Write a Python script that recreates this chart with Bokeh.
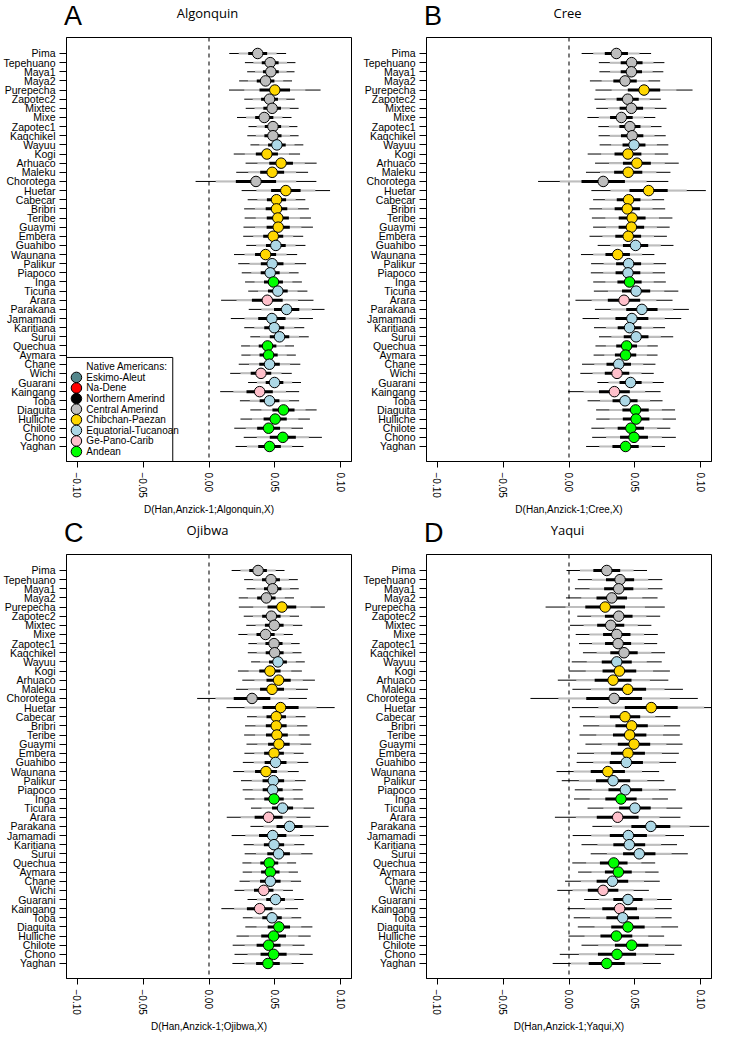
from bokeh.plotting import figure
from bokeh.models import Span, BoxAnnotation, FixedTicker, ColumnDataSource, Div
from bokeh.layouts import column, row
from bokeh.embed import file_html
from bokeh.resources import INLINE
from bokeh.core.properties import value

populations = ["Pima", "Tepehuano", "Maya1", "Maya2", "Purepecha", "Zapotec2", "Mixtec", "Mixe",
               "Zapotec1", "Kaqchikel", "Wayuu", "Kogi", "Arhuaco", "Maleku", "Chorotega", "Huetar",
               "Cabecar", "Bribri", "Teribe", "Guaymi", "Embera", "Guahibo", "Waunana", "Palikur",
               "Piapoco", "Inga", "Ticuna", "Arara", "Parakana", "Jamamadi", "Karitiana", "Surui",
               "Quechua", "Aymara", "Chane", "Wichi", "Guarani", "Kaingang", "Toba", "Diaguita",
               "Hulliche", "Chilote", "Chono", "Yaghan"]

groups = ["Central Amerind", "Central Amerind", "Central Amerind", "Central Amerind", "Chibchan-Paezan",
          "Central Amerind", "Central Amerind", "Central Amerind", "Central Amerind", "Central Amerind",
          "Equatorial-Tucanoan", "Chibchan-Paezan", "Chibchan-Paezan", "Chibchan-Paezan", "Central Amerind",
          "Chibchan-Paezan", "Chibchan-Paezan", "Chibchan-Paezan", "Chibchan-Paezan", "Chibchan-Paezan",
          "Chibchan-Paezan", "Equatorial-Tucanoan", "Chibchan-Paezan", "Equatorial-Tucanoan",
          "Equatorial-Tucanoan", "Andean", "Equatorial-Tucanoan", "Ge-Pano-Carib", "Equatorial-Tucanoan",
          "Equatorial-Tucanoan", "Equatorial-Tucanoan", "Equatorial-Tucanoan", "Andean", "Andean",
          "Equatorial-Tucanoan", "Ge-Pano-Carib", "Equatorial-Tucanoan", "Ge-Pano-Carib",
          "Equatorial-Tucanoan", "Andean", "Andean", "Andean", "Andean", "Andean"]

group_names = ["Eskimo-Aleut", "Na-Dene", "Northern Amerind", "Central Amerind", "Chibchan-Paezan",
               "Equatorial-Tucanoan", "Ge-Pano-Carib", "Andean"]
group_colors = ["#53868B", "#FF0000", "#000000", "#BEBEBE", "#FFD700", "#ADD8E6", "#FFC0CB", "#00FF00"]

x_ticks = [-0.10, -0.05, 0.0, 0.05, 0.10]
x_tick_labels = ["\u22120.10", "\u22120.05", "0.00", "0.05", "0.10"]

d_algonquin = [0.037, 0.0465, 0.047, 0.043, 0.050, 0.046, 0.048, 0.042, 0.0486, 0.0486, 0.0516, 0.044,
               0.0548, 0.048, 0.0357, 0.0584, 0.0513, 0.0513, 0.0523, 0.0526, 0.0488, 0.0508, 0.043,
               0.048, 0.0465, 0.049, 0.0523, 0.0443, 0.059, 0.0478, 0.0496, 0.0536, 0.0445, 0.0453,
               0.046, 0.0395, 0.0498, 0.0385, 0.046, 0.0566, 0.0503, 0.0453, 0.0561, 0.046]
se_algonquin = [0.0072, 0.0064, 0.006, 0.0067, 0.0116, 0.0064, 0.0067, 0.0069, 0.0062, 0.0065, 0.0067,
                0.0084, 0.009, 0.0091, 0.0153, 0.0112, 0.0073, 0.0082, 0.0084, 0.0088, 0.0076, 0.0075,
                0.008, 0.0086, 0.0072, 0.0072, 0.0075, 0.0117, 0.0096, 0.0104, 0.0076, 0.0074, 0.0067,
                0.0069, 0.0078, 0.0078, 0.0067, 0.01, 0.0075, 0.0084, 0.0088, 0.0087, 0.0099, 0.0086]

d_cree = [0.036, 0.0476, 0.0474, 0.0426, 0.057, 0.0446, 0.0474, 0.0398, 0.0463, 0.048, 0.0494, 0.0448,
          0.0516, 0.045, 0.026, 0.0605, 0.0453, 0.0443, 0.048, 0.0474, 0.045, 0.0506, 0.037, 0.0453,
          0.0448, 0.046, 0.051, 0.0418, 0.0554, 0.0478, 0.046, 0.051, 0.0438, 0.043, 0.0378, 0.0365,
          0.0468, 0.0345, 0.0426, 0.0506, 0.051, 0.047, 0.0494, 0.043]
se_cree = [0.0088, 0.0083, 0.0081, 0.0089, 0.0123, 0.0084, 0.0089, 0.0086, 0.008, 0.0085, 0.0087, 0.0102,
           0.0106, 0.0107, 0.0165, 0.0145, 0.009, 0.0096, 0.0102, 0.0097, 0.0098, 0.0096, 0.0093, 0.0095,
           0.0094, 0.0092, 0.0107, 0.0123, 0.0119, 0.0125, 0.009, 0.0094, 0.0079, 0.0081, 0.0093, 0.0093,
           0.0084, 0.0117, 0.0095, 0.01, 0.0101, 0.01, 0.0106, 0.01]

d_ojibwa = [0.0373, 0.0471, 0.0484, 0.0436, 0.0554, 0.0474, 0.0496, 0.043, 0.0494, 0.0499, 0.0524, 0.0463,
            0.0529, 0.0479, 0.0327, 0.0544, 0.0511, 0.0511, 0.0516, 0.0531, 0.0494, 0.0506, 0.0433, 0.0489,
            0.0484, 0.0494, 0.0559, 0.0453, 0.0612, 0.0484, 0.0494, 0.0529, 0.0458, 0.0466, 0.0466, 0.0416,
            0.0506, 0.0385, 0.0479, 0.0531, 0.0491, 0.0453, 0.0491, 0.0448]
se_ojibwa = [0.0067, 0.0068, 0.0066, 0.007, 0.0109, 0.007, 0.0071, 0.0069, 0.0065, 0.0068, 0.0068, 0.0081,
             0.0092, 0.0091, 0.0139, 0.0137, 0.0074, 0.0079, 0.0083, 0.0082, 0.0075, 0.0083, 0.0083, 0.0082,
             0.0076, 0.0074, 0.008, 0.0106, 0.0099, 0.0104, 0.0077, 0.0086, 0.0068, 0.007, 0.0078, 0.0074,
             0.0071, 0.0097, 0.0074, 0.0085, 0.0094, 0.0091, 0.0099, 0.009]

d_yaqui = [0.0287, 0.0388, 0.0378, 0.0325, 0.0275, 0.0378, 0.0317, 0.0363, 0.0373, 0.0418, 0.0363, 0.0383,
           0.0335, 0.0446, 0.0343, 0.0625, 0.0426, 0.0476, 0.0461, 0.0494, 0.0448, 0.0436, 0.0295, 0.0335,
           0.0428, 0.0395, 0.0501, 0.037, 0.0622, 0.0451, 0.0458, 0.0534, 0.034, 0.0375, 0.033, 0.0259,
           0.0448, 0.0385, 0.0408, 0.0448, 0.036, 0.0476, 0.0365, 0.0287]
se_yaqui = [0.0102, 0.0107, 0.0111, 0.0116, 0.0151, 0.0105, 0.0103, 0.0104, 0.0099, 0.0104, 0.0114, 0.0128,
            0.014, 0.014, 0.0212, 0.0201, 0.0115, 0.0123, 0.0127, 0.0123, 0.0129, 0.0126, 0.013, 0.013,
            0.0128, 0.0119, 0.012, 0.0159, 0.0148, 0.0141, 0.0121, 0.0123, 0.0105, 0.0102, 0.012, 0.0116,
            0.0111, 0.0132, 0.0124, 0.0127, 0.0121, 0.0127, 0.0145, 0.0137]

panel_letters = ["A", "B", "C", "D"]
panel_targets = ["Algonquin", "Cree", "Ojibwa", "Yaqui"]

FONT = "Liberation Sans"
X0, X1 = -0.1083, 0.1083
Y0, Y1 = -0.643, 45.75
FRAME_W = 287
FRAME_H = 428
BORDER_L = 64
BORDER_T = 3
BORDER_B = 52
FIG_W = 360
HEADER_H = 34
ROW_PX = FRAME_H / (Y1 - Y0)
PX_X = FRAME_W / (X1 - X0)

color_of = dict(zip(group_names, group_colors))


def header(letter, target):
    html = (
        '<div style="position:relative;width:%dpx;height:%dpx;">'
        '<span style="position:absolute;left:%dpx;top:1px;font-family:\'Liberation Sans\';'
        'font-size:27px;line-height:31px;color:black;white-space:nowrap;">%s</span>'
        '<span style="position:absolute;left:%dpx;width:%dpx;top:5px;text-align:center;'
        'font-family:\'Open Sans\';font-size:13px;line-height:16px;color:black;white-space:nowrap;">%s</span>'
        '</div>'
    ) % (FIG_W, HEADER_H, BORDER_L, letter, BORDER_L, FRAME_W, target)
    return Div(text=html, width=FIG_W, height=HEADER_H, margin=(0, 0, 0, 0))


def make_panel(target, d, se, legend=False):
    n = len(populations)
    ys = [n - i for i in range(n)]
    p = figure(width=FIG_W, height=BORDER_T + FRAME_H + BORDER_B, x_range=(X0, X1), y_range=(Y0, Y1),
               output_backend="svg", toolbar_location=None,
               min_border_left=BORDER_L, min_border_right=FIG_W - BORDER_L - FRAME_W,
               min_border_top=BORDER_T, min_border_bottom=BORDER_B)
    p.xgrid.visible = False
    p.ygrid.visible = False
    p.outline_line_color = "black"
    p.outline_line_width = 1
    p.outline_line_alpha = 1
    p.background_fill_color = "white"
    p.border_fill_color = "white"

    xa = p.xaxis[0]
    xa.ticker = FixedTicker(ticks=x_ticks)
    xa.major_label_overrides = dict(zip(x_ticks, x_tick_labels))
    xa.major_label_orientation = "vertical"
    xa.major_tick_out = 6
    xa.major_tick_in = 0
    xa.minor_tick_line_color = None
    xa.major_label_standoff = 5
    xa.major_label_text_font = FONT
    xa.major_label_text_font_size = "10px"
    xa.major_label_text_color = "black"
    xa.axis_label = "D(Han,Anzick-1;%s,X)" % target
    xa.axis_label_text_font = FONT
    xa.axis_label_text_font_size = "10px"
    xa.axis_label_text_font_style = "normal"
    xa.axis_label_text_color = "black"
    xa.axis_label_standoff = 3
    xa.axis_line_color = "black"
    xa.major_tick_line_color = "black"

    ya = p.yaxis[0]
    ya.ticker = FixedTicker(ticks=ys)
    ya.major_label_overrides = {y: name for y, name in zip(ys, populations)}
    ya.major_tick_out = 7
    ya.major_tick_in = 0
    ya.minor_tick_line_color = None
    ya.major_label_standoff = 4
    ya.major_label_text_font = FONT
    ya.major_label_text_font_size = "10.5px"
    ya.major_label_text_color = "black"
    ya.axis_line_color = "black"
    ya.major_tick_line_color = "black"

    p.add_layout(Span(location=0, dimension="height", line_color="#333333", line_width=1.3,
                      line_dash="4 4", level="underlay"))

    src = ColumnDataSource(dict(
        y=ys, d=d,
        lo3=[a - 3 * b for a, b in zip(d, se)], hi3=[a + 3 * b for a, b in zip(d, se)],
        lo2=[a - 2 * b for a, b in zip(d, se)], hi2=[a + 2 * b for a, b in zip(d, se)],
        lo1=[a - b for a, b in zip(d, se)], hi1=[a + b for a, b in zip(d, se)],
        color=[color_of[g] for g in groups],
    ))
    p.segment(x0="lo3", x1="hi3", y0="y", y1="y", source=src, line_color="black", line_width=1)
    p.segment(x0="lo2", x1="hi2", y0="y", y1="y", source=src, line_color="#BEBEBE", line_width=2)
    p.segment(x0="lo1", x1="hi1", y0="y", y1="y", source=src, line_color="black", line_width=3)
    p.scatter(x="d", y="y", source=src, size=10.5, fill_color="color", line_color="black", line_width=1)

    if legend:
        k = len(group_names)
        top = Y0 + 105 / ROW_PX
        p.add_layout(BoxAnnotation(left=X0, right=X0 + 107 / PX_X, bottom=Y0, top=top,
                                   fill_color="white", fill_alpha=1, line_color="black",
                                   line_width=1, line_alpha=1, level="underlay"))
        ly = [Y0 + (10 + (k - 1 - i) * 10.7) / ROW_PX for i in range(k)]
        p.scatter(x=[X0 + 10 / PX_X] * k, y=ly, size=10.5, fill_color=group_colors,
                  line_color="black", line_width=1)
        p.text(x=[X0 + 20 / PX_X] * k, y=ly, text=group_names, text_font=value(FONT),
               text_font_size="10px", text_baseline="middle", text_align="left", text_color="black")
        p.text(x=[X0 + 20 / PX_X], y=[Y0 + 96 / ROW_PX], text=["Native Americans:"],
               text_font=value(FONT), text_font_size="10px", text_baseline="middle",
               text_align="left", text_color="black")
    return p


pA = make_panel(panel_targets[0], d_algonquin, se_algonquin, legend=True)
pB = make_panel(panel_targets[1], d_cree, se_cree)
pC = make_panel(panel_targets[2], d_ojibwa, se_ojibwa)
pD = make_panel(panel_targets[3], d_yaqui, se_yaqui)

layout = column(
    row(column(header(panel_letters[0], panel_targets[0]), pA, spacing=0),
        column(header(panel_letters[1], panel_targets[1]), pB, spacing=0), spacing=0),
    row(column(header(panel_letters[2], panel_targets[2]), pC, spacing=0),
        column(header(panel_letters[3], panel_targets[3]), pD, spacing=0), spacing=0),
    spacing=0)
open("out.html", "w").write(file_html(layout, INLINE))
